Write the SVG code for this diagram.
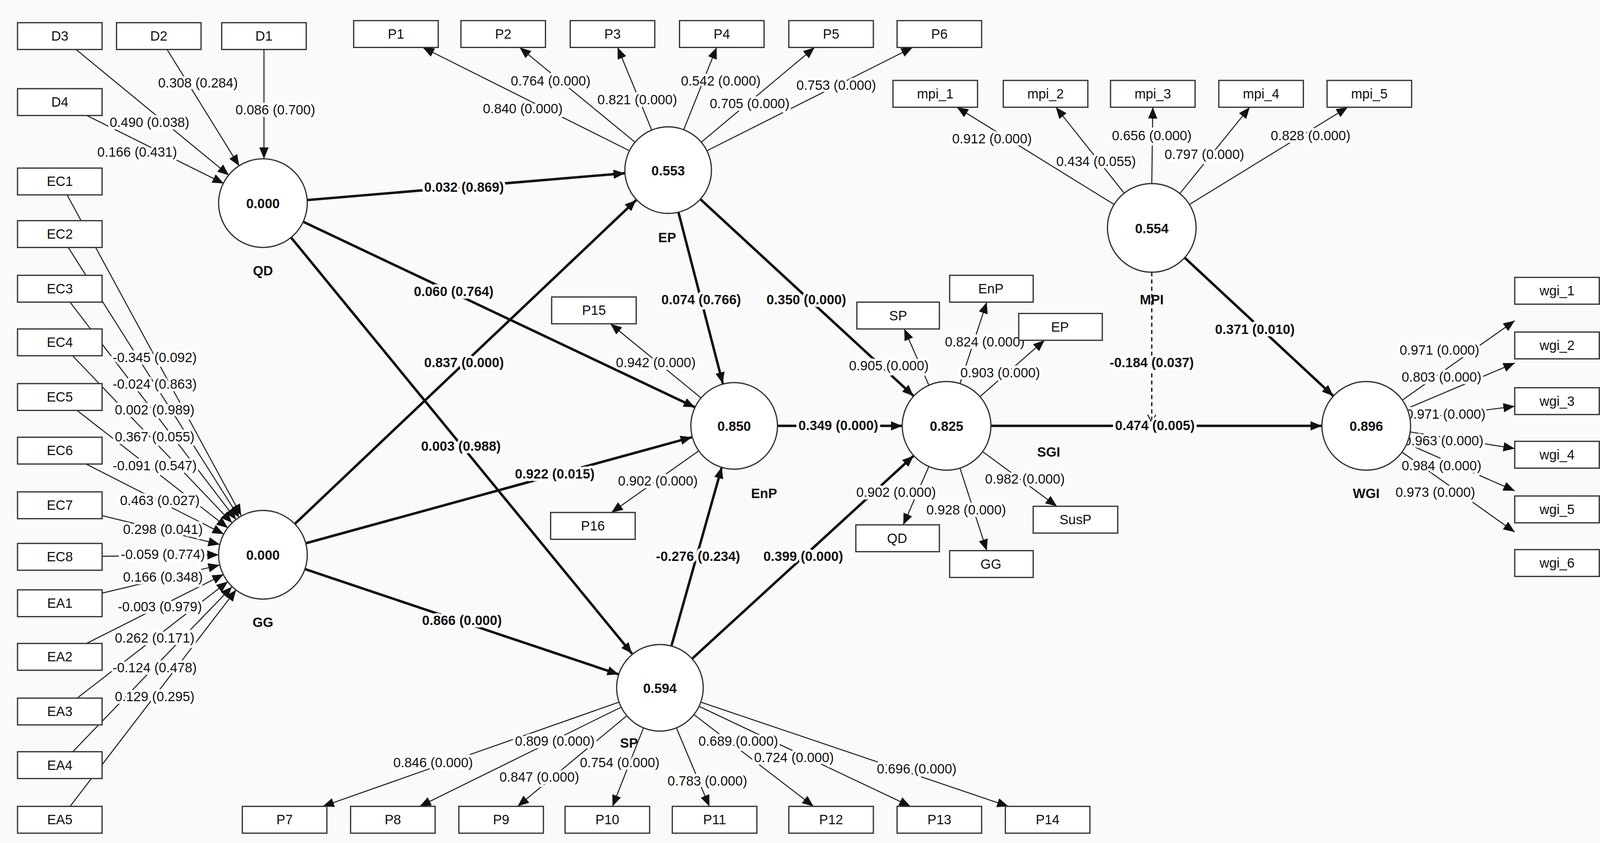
<svg xmlns="http://www.w3.org/2000/svg" width="4118" height="2158" viewBox="0 0 4118 2158">
<style>
.b rect{fill:#fff;stroke:#333;stroke-width:1.2}
.b text,.c text,.l text{font-family:"Liberation Sans",Arial,sans-serif;font-size:13px;text-anchor:middle;fill:#111}
.c circle{fill:#fff;stroke:#333;stroke-width:1.2}
.c text{font-weight:bold}
.t{stroke:#222;stroke-width:1;fill:none}
.s{stroke:#111;stroke-width:2.4;fill:none}
.l text{paint-order:stroke;stroke:#fff;stroke-width:5px;stroke-linejoin:round}
.l .k{font-weight:bold}
</style>
<defs>
<marker id="a" markerUnits="userSpaceOnUse" markerWidth="12" markerHeight="10" refX="11" refY="4.5" orient="auto"><path d="M0,0 L11,4.5 L0,9 z" fill="#111"/></marker>
<marker id="o" markerUnits="userSpaceOnUse" markerWidth="10" markerHeight="10" refX="8" refY="4" orient="auto"><path d="M0,0 L8,4 L0,8" fill="none" stroke="#111"/></marker>
</defs>
<rect width="4118" height="2158" fill="#fafafa"/>
<g transform="scale(2.6397)">
<g id="connectors">
<g class="t" marker-end="url(#a)">
<line x1="58" y1="35" x2="222" y2="170"/><line x1="154" y1="35" x2="232" y2="161"/><line x1="256" y1="35" x2="256" y2="154"/><line x1="58" y1="99" x2="217" y2="178"/>
<line x1="610" y1="146" x2="410" y2="46"/><line x1="616" y1="138" x2="504" y2="46"/><line x1="632" y1="126" x2="599" y2="46"/><line x1="663" y1="126" x2="695" y2="46"/><line x1="680" y1="138" x2="790" y2="46"/><line x1="686" y1="146" x2="885" y2="46"/>
<line x1="1080" y1="198" x2="928" y2="104"/><line x1="1090" y1="187" x2="1024" y2="104"/><line x1="1117" y1="178" x2="1118" y2="104"/><line x1="1144" y1="188" x2="1212" y2="104"/><line x1="1154" y1="198" x2="1307" y2="104"/>
<line x1="1360" y1="388" x2="1469" y2="311"/><line x1="1365" y1="396" x2="1469" y2="352"/><line x1="1368" y1="407" x2="1469" y2="394"/><line x1="1368" y1="419" x2="1469" y2="435"/><line x1="1364" y1="430" x2="1469" y2="476"/><line x1="1359" y1="438" x2="1469" y2="516"/>
<line x1="680" y1="386" x2="592" y2="314"/><line x1="678" y1="437" x2="593" y2="497"/>
<line x1="901" y1="374" x2="877" y2="319"/><line x1="931" y1="372" x2="957" y2="293"/><line x1="950" y1="385" x2="1013" y2="330"/><line x1="901" y1="452" x2="876" y2="509"/><line x1="931" y1="454" x2="957" y2="534"/><line x1="953" y1="438" x2="1025" y2="491"/>
<line x1="600" y1="681" x2="313" y2="782"/><line x1="602" y1="686" x2="407" y2="782"/><line x1="608" y1="694" x2="502" y2="782"/><line x1="624" y1="706" x2="594" y2="782"/><line x1="656" y1="706" x2="688" y2="782"/><line x1="673" y1="693" x2="789" y2="782"/><line x1="678" y1="685" x2="883" y2="782"/><line x1="680" y1="681" x2="978" y2="782"/>
<line x1="58" y1="176" x2="234" y2="500"/><line x1="58" y1="227" x2="232" y2="502"/><line x1="58" y1="280" x2="229" y2="504"/><line x1="58" y1="332" x2="225" y2="507"/><line x1="58" y1="385" x2="221" y2="512"/><line x1="58" y1="437" x2="217" y2="518"/><line x1="58" y1="490" x2="213" y2="528"/><line x1="58" y1="540" x2="212" y2="538"/><line x1="58" y1="585" x2="213" y2="548"/><line x1="58" y1="637" x2="217" y2="557"/><line x1="58" y1="690" x2="221" y2="564"/><line x1="58" y1="742" x2="225" y2="569"/><line x1="58" y1="795" x2="229" y2="572"/>
</g>
<g class="s" marker-end="url(#a)">
<line x1="298" y1="194" x2="606" y2="168"/><line x1="294" y1="215" x2="674" y2="395"/><line x1="282" y1="230" x2="613" y2="634"/>
<line x1="286" y1="508" x2="617" y2="194"/><line x1="296" y1="527" x2="671" y2="424"/><line x1="296" y1="552" x2="600" y2="654"/>
<line x1="658" y1="206" x2="701" y2="372"/><line x1="679" y1="193" x2="886" y2="384"/><line x1="754" y1="413" x2="875" y2="413"/>
<line x1="651" y1="627" x2="700" y2="453"/><line x1="671" y1="639" x2="886" y2="442"/><line x1="961" y1="413" x2="1282" y2="413"/><line x1="1149" y1="250" x2="1293" y2="384"/>
</g>
<line x1="1117" y1="264" x2="1117" y2="410" stroke="#111" stroke-width="1.2" stroke-dasharray="4,3" marker-end="url(#o)"/>
</g>
<g class="l">
<text x="145" y="123">0.490 (0.038)</text><text x="192" y="85">0.308 (0.284)</text><text x="267" y="111">0.086 (0.700)</text><text x="133" y="152">0.166 (0.431)</text>
<text x="507" y="110">0.840 (0.000)</text><text x="534" y="83">0.764 (0.000)</text><text x="618" y="101">0.821 (0.000)</text><text x="699" y="83">0.542 (0.000)</text><text x="727" y="105">0.705 (0.000)</text><text x="811" y="87">0.753 (0.000)</text>
<text x="962" y="139">0.912 (0.000)</text><text x="1063" y="161">0.434 (0.055)</text><text x="1117" y="136">0.656 (0.000)</text><text x="1168" y="154">0.797 (0.000)</text><text x="1271" y="136">0.828 (0.000)</text>
<text x="636" y="356">0.942 (0.000)</text><text x="638" y="471">0.902 (0.000)</text>
<text x="862" y="359">0.905 (0.000)</text><text x="955" y="336">0.824 (0.000)</text><text x="970" y="366">0.903 (0.000)</text><text x="869" y="482">0.902 (0.000)</text><text x="937" y="499">0.928 (0.000)</text><text x="994" y="469">0.982 (0.000)</text>
<text x="1396" y="344">0.971 (0.000)</text><text x="1398" y="370">0.803 (0.000)</text><text x="1402" y="406">0.971 (0.000)</text><text x="1400" y="432">0.963 (0.000)</text><text x="1398" y="456">0.984 (0.000)</text><text x="1392" y="482">0.973 (0.000)</text>
<text x="420" y="744">0.846 (0.000)</text><text x="538" y="723">0.809 (0.000)</text><text x="523" y="758">0.847 (0.000)</text><text x="601" y="744">0.754 (0.000)</text><text x="686" y="762">0.783 (0.000)</text><text x="716" y="723">0.689 (0.000)</text><text x="770" y="739">0.724 (0.000)</text><text x="889" y="750">0.696 (0.000)</text>
<text x="150" y="351">-0.345 (0.092)</text><text x="150" y="377">-0.024 (0.863)</text><text x="150" y="402">0.002 (0.989)</text><text x="150" y="428">0.367 (0.055)</text><text x="150" y="456">-0.091 (0.547)</text><text x="155" y="490">0.463 (0.027)</text><text x="158" y="518">0.298 (0.041)</text><text x="158" y="542">-0.059 (0.774)</text><text x="158" y="564">0.166 (0.348)</text><text x="155" y="593">-0.003 (0.979)</text><text x="150" y="623">0.262 (0.171)</text><text x="150" y="652">-0.124 (0.478)</text><text x="150" y="680">0.129 (0.295)</text>
<text class="k" x="450" y="186">0.032 (0.869)</text><text class="k" x="440" y="287">0.060 (0.764)</text><text class="k" x="447" y="437">0.003 (0.988)</text><text class="k" x="450" y="356">0.837 (0.000)</text><text class="k" x="538" y="464">0.922 (0.015)</text><text class="k" x="448" y="606">0.866 (0.000)</text>
<text class="k" x="680" y="295">0.074 (0.766)</text><text class="k" x="782" y="295">0.350 (0.000)</text><text class="k" x="813" y="417">0.349 (0.000)</text><text class="k" x="677" y="544">-0.276 (0.234)</text><text class="k" x="779" y="544">0.399 (0.000)</text><text class="k" x="1120" y="417">0.474 (0.005)</text><text class="k" x="1217" y="324">0.371 (0.010)</text><text class="k" x="1117" y="356">-0.184 (0.037)</text>
</g>
<g class="b">
<g id="D3"><rect x="17" y="22" width="82" height="26"/><text x="58" y="39.5">D3</text></g>
<g id="D2"><rect x="113" y="22" width="82" height="26"/><text x="154" y="39.5">D2</text></g>
<g id="D1"><rect x="215" y="22" width="82" height="26"/><text x="256" y="39.5">D1</text></g>
<g id="D4"><rect x="17" y="86" width="82" height="26"/><text x="58" y="103.5">D4</text></g>
<g id="EC1"><rect x="17" y="163" width="82" height="26"/><text x="58" y="180.5">EC1</text></g>
<g id="EC2"><rect x="17" y="214" width="82" height="26"/><text x="58" y="231.5">EC2</text></g>
<g id="EC3"><rect x="17" y="267" width="82" height="26"/><text x="58" y="284.5">EC3</text></g>
<g id="EC4"><rect x="17" y="319" width="82" height="26"/><text x="58" y="336.5">EC4</text></g>
<g id="EC5"><rect x="17" y="372" width="82" height="26"/><text x="58" y="389.5">EC5</text></g>
<g id="EC6"><rect x="17" y="424" width="82" height="26"/><text x="58" y="441.5">EC6</text></g>
<g id="EC7"><rect x="17" y="477" width="82" height="26"/><text x="58" y="494.5">EC7</text></g>
<g id="EC8"><rect x="17" y="527" width="82" height="26"/><text x="58" y="544.5">EC8</text></g>
<g id="EA1"><rect x="17" y="572" width="82" height="26"/><text x="58" y="589.5">EA1</text></g>
<g id="EA2"><rect x="17" y="624" width="82" height="26"/><text x="58" y="641.5">EA2</text></g>
<g id="EA3"><rect x="17" y="677" width="82" height="26"/><text x="58" y="694.5">EA3</text></g>
<g id="EA4"><rect x="17" y="729" width="82" height="26"/><text x="58" y="746.5">EA4</text></g>
<g id="EA5"><rect x="17" y="782" width="82" height="26"/><text x="58" y="799.5">EA5</text></g>
<g id="P1"><rect x="343" y="20" width="82" height="26"/><text x="384" y="37.5">P1</text></g>
<g id="P2"><rect x="447" y="20" width="82" height="26"/><text x="488" y="37.5">P2</text></g>
<g id="P3"><rect x="553" y="20" width="82" height="26"/><text x="594" y="37.5">P3</text></g>
<g id="P4"><rect x="659" y="20" width="82" height="26"/><text x="700" y="37.5">P4</text></g>
<g id="P5"><rect x="765" y="20" width="82" height="26"/><text x="806" y="37.5">P5</text></g>
<g id="P6"><rect x="870" y="20" width="82" height="26"/><text x="911" y="37.5">P6</text></g>
<g id="mpi_1"><rect x="866" y="78" width="82" height="26"/><text x="907" y="95.5">mpi_1</text></g>
<g id="mpi_2"><rect x="973" y="78" width="82" height="26"/><text x="1014" y="95.5">mpi_2</text></g>
<g id="mpi_3"><rect x="1077" y="78" width="82" height="26"/><text x="1118" y="95.5">mpi_3</text></g>
<g id="mpi_4"><rect x="1182" y="78" width="82" height="26"/><text x="1223" y="95.5">mpi_4</text></g>
<g id="mpi_5"><rect x="1287" y="78" width="82" height="26"/><text x="1328" y="95.5">mpi_5</text></g>
<g id="wgi_1"><rect x="1469" y="269" width="82" height="26"/><text x="1510" y="286.5">wgi_1</text></g>
<g id="wgi_2"><rect x="1469" y="322" width="82" height="26"/><text x="1510" y="339.5">wgi_2</text></g>
<g id="wgi_3"><rect x="1469" y="376" width="82" height="26"/><text x="1510" y="393.5">wgi_3</text></g>
<g id="wgi_4"><rect x="1469" y="428" width="82" height="26"/><text x="1510" y="445.5">wgi_4</text></g>
<g id="wgi_5"><rect x="1469" y="481" width="82" height="26"/><text x="1510" y="498.5">wgi_5</text></g>
<g id="wgi_6"><rect x="1469" y="533" width="82" height="26"/><text x="1510" y="550.5">wgi_6</text></g>
<g id="P15"><rect x="535" y="288" width="82" height="26"/><text x="576" y="305.5">P15</text></g>
<g id="P16"><rect x="534" y="497" width="82" height="26"/><text x="575" y="514.5">P16</text></g>
<g id="SGI_SP"><rect x="831" y="293" width="80" height="26"/><text x="871" y="310.5">SP</text></g>
<g id="SGI_EnP"><rect x="921" y="267" width="81" height="26"/><text x="961" y="284.5">EnP</text></g>
<g id="SGI_EP"><rect x="988" y="304" width="81" height="26"/><text x="1028" y="321.5">EP</text></g>
<g id="SGI_QD"><rect x="830" y="509" width="81" height="26"/><text x="870" y="526.5">QD</text></g>
<g id="SGI_GG"><rect x="921" y="534" width="81" height="26"/><text x="961" y="551.5">GG</text></g>
<g id="SusP"><rect x="1002" y="491" width="82" height="26"/><text x="1043" y="508.5">SusP</text></g>
<g id="P7"><rect x="235" y="782" width="82" height="26"/><text x="276" y="799.5">P7</text></g>
<g id="P8"><rect x="340" y="782" width="82" height="26"/><text x="381" y="799.5">P8</text></g>
<g id="P9"><rect x="445" y="782" width="82" height="26"/><text x="486" y="799.5">P9</text></g>
<g id="P10"><rect x="548" y="782" width="82" height="26"/><text x="589" y="799.5">P10</text></g>
<g id="P11"><rect x="652" y="782" width="82" height="26"/><text x="693" y="799.5">P11</text></g>
<g id="P12"><rect x="765" y="782" width="82" height="26"/><text x="806" y="799.5">P12</text></g>
<g id="P13"><rect x="870" y="782" width="82" height="26"/><text x="911" y="799.5">P13</text></g>
<g id="P14"><rect x="975" y="782" width="82" height="26"/><text x="1016" y="799.5">P14</text></g>
</g>
<g class="c">
<g id="QD"><circle cx="255" cy="197" r="43"/><text x="255" y="202">0.000</text><text x="255" y="267">QD</text></g>
<g id="GG"><circle cx="255" cy="538" r="43"/><text x="255" y="543">0.000</text><text x="255" y="608">GG</text></g>
<g id="EP"><circle cx="648" cy="165" r="42"/><text x="648" y="170">0.553</text><text x="647" y="235">EP</text></g>
<g id="EnP"><circle cx="712" cy="413" r="42"/><text x="712" y="418">0.850</text><text x="741" y="483">EnP</text></g>
<g id="SP"><circle cx="640" cy="667" r="42"/><text x="640" y="672">0.594</text><text x="610" y="725">SP</text></g>
<g id="SGI"><circle cx="918" cy="413" r="43"/><text x="918" y="418">0.825</text><text x="1017" y="443">SGI</text></g>
<g id="MPI"><circle cx="1117" cy="221" r="43"/><text x="1117" y="226">0.554</text><text x="1117" y="295">MPI</text></g>
<g id="WGI"><circle cx="1325" cy="413" r="43"/><text x="1325" y="418">0.896</text><text x="1325" y="483">WGI</text></g>
</g>
</g>
</svg>
